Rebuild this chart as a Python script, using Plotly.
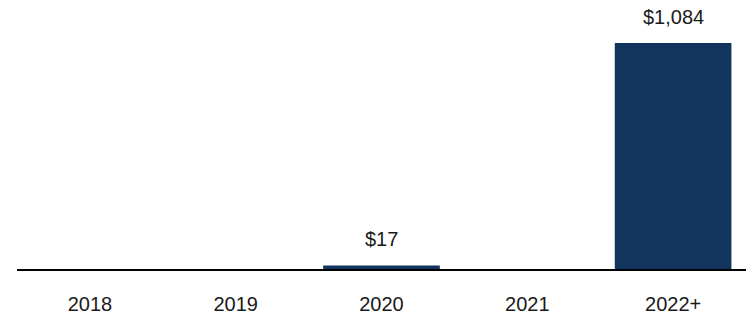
import plotly.graph_objects as go

categories = ["2018", "2019", "2020", "2021", "2022+"]
values = [0, 0, 17, 0, 1084]
labels = ["", "", "$17", "", "$1,084"]

BAR = "#12345E"
FONT = "Liberation Sans, Arial, sans-serif"

fig = go.Figure()
fig.add_trace(go.Bar(
    x=categories, y=values, marker_color=BAR, marker_line_width=0,
    hoverinfo="skip",
))
for i, (v, t) in enumerate(zip(values, labels)):
    if t:
        fig.add_annotation(x=i, y=v, text=t, showarrow=False, yanchor="bottom",
                           yshift=13, font=dict(size=20, color="#1a1a1a", family=FONT))

fig.update_layout(
    width=747, height=318,
    margin=dict(l=17, r=1, t=0, b=49),
    paper_bgcolor="white", plot_bgcolor="white",
    bargap=0.2, showlegend=False,
    font=dict(family=FONT, size=20, color="#1a1a1a"),
    xaxis=dict(type="category", range=[-0.5, 4.5], showline=True, linecolor="black",
               linewidth=2, ticks="", showgrid=False, tickfont=dict(size=20),
               ticklabelstandoff=16),
    yaxis=dict(visible=False, range=[0, 1290], showgrid=False, zeroline=False),
)
fig.write_html("out.html", config={"displayModeBar": False},
               post_script="document.body.style.margin='0';")
